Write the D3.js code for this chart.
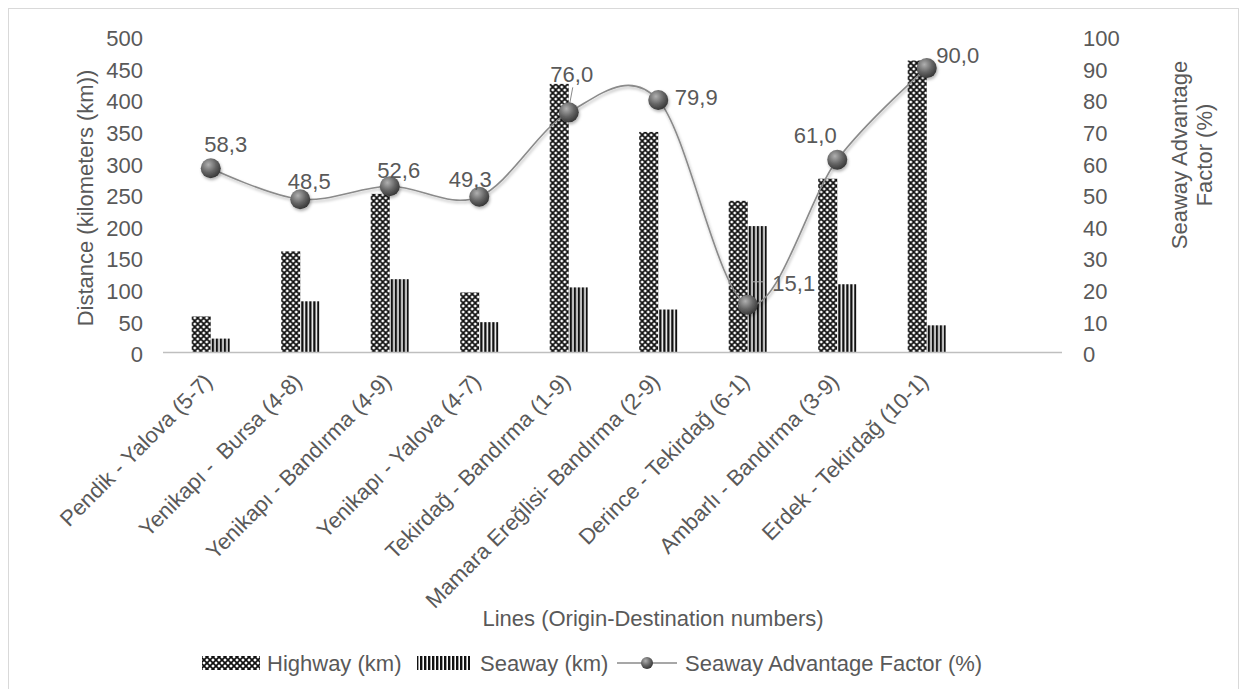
<!DOCTYPE html>
<html>
<head>
<meta charset="utf-8">
<script src="https://cdn.jsdelivr.net/npm/d3@7"></script>
<style>
  body { margin: 0; background: #fff; }
  text { font-family: "Liberation Sans", Arial, sans-serif; fill: #595959; }
</style>
</head>
<body>
<div id="chart"></div>
<script>
// data
const categories = ["Pendik - Yalova (5-7)", "Yenikapı -  Bursa (4-8)", "Yenikapı - Bandırma (4-9)",
                    "Yenikapı - Yalova (4-7)", "Tekirdağ - Bandırma (1-9)", "Mamara Ereğlisi- Bandırma (2-9)",
                    "Derince - Tekirdağ (6-1)", "Ambarlı - Bandırma (3-9)", "Erdek - Tekirdağ (10-1)"];
const highway = [57, 160, 251, 95, 425, 349, 240, 275, 462];
const seaway = [22, 81, 116, 48, 103, 68, 200, 108, 43];
const advantage = [58.3, 48.5, 52.6, 49.3, 76.0, 79.9, 15.1, 61.0, 90.0];
const leftTicks = [0, 50, 100, 150, 200, 250, 300, 350, 400, 450, 500];
const rightTicks = [0, 10, 20, 30, 40, 50, 60, 70, 80, 90, 100];

// hand placed data labels (offset of label centre from the point)
const labelNudge = [[15, -24], [9, -18], [9, -16], [-9, -18], [3, -38], [38, -3], [46, -22], [-22, -25], [31, -13]];

const width = 1241, height = 689;

const svg = d3.select("#chart").append("svg")
    .attr("width", width)
    .attr("height", height);

const defs = svg.append("defs");

// crosshatch for highway
const p1 = defs.append("pattern")
    .attr("id", "hatch")
    .attr("patternUnits", "userSpaceOnUse")
    .attr("width", 6).attr("height", 6);
p1.append("rect").attr("width", 6).attr("height", 6).attr("fill", "#fff");
p1.append("path")
    .attr("d", "M0,0 L6,6 M6,0 L0,6 M-1,5 L1,7 M5,-1 L7,1 M-1,1 L1,-1 M5,7 L7,5")
    .attr("stroke", "#111").attr("stroke-width", 1.7);

// vertical stripes for seaway
const p2 = defs.append("pattern")
    .attr("id", "stripes")
    .attr("patternUnits", "userSpaceOnUse")
    .attr("width", 4).attr("height", 4);
p2.append("rect").attr("width", 4).attr("height", 4).attr("fill", "#fff");
p2.append("rect").attr("width", 2.4).attr("height", 4).attr("fill", "#111");

const grad = defs.append("radialGradient")
    .attr("id", "ball")
    .attr("cx", "38%").attr("cy", "32%").attr("r", "70%");
grad.append("stop").attr("offset", "0%").attr("stop-color", "#b0b0b0");
grad.append("stop").attr("offset", "55%").attr("stop-color", "#666");
grad.append("stop").attr("offset", "100%").attr("stop-color", "#363636");

const shadow = defs.append("filter").attr("id", "shadow")
    .attr("x", "-50%").attr("y", "-50%").attr("width", "200%").attr("height", "200%");
shadow.append("feDropShadow")
    .attr("dx", 1).attr("dy", 2).attr("stdDeviation", 1.5)
    .attr("flood-color", "#000").attr("flood-opacity", 0.3);

// chart border
svg.append("rect")
    .attr("x", 8.5).attr("y", 8.5)
    .attr("width", 1230).attr("height", 700)
    .attr("fill", "none")
    .attr("stroke", "#d9d9d9");

// one empty slot at the end, like the original
const x = d3.scaleBand()
    .domain(d3.range(categories.length + 1))
    .range([166, 1061])
    .paddingInner(0.575)
    .paddingOuter(0.2875);

const xSub = d3.scaleBand()
    .domain(["highway", "seaway"])
    .range([0, x.bandwidth()]);

const y = d3.scaleLinear().domain([0, 500]).range([352.5, 36.5]);
const y2 = d3.scaleLinear().domain([0, 100]).range([352.5, 36.5]);

const cx = i => x(i) + x.bandwidth() / 2;

// left axis
const gl = svg.append("g")
    .attr("transform", "translate(151,0)")
    .call(d3.axisLeft(y).tickValues(leftTicks).tickSize(0).tickPadding(8));
gl.select(".domain").remove();
gl.selectAll("text").style("font-size", "22px").attr("fill", "#595959").attr("dy", "0.42em");

// right axis
const gr = svg.append("g")
    .attr("transform", "translate(1075,0)")
    .call(d3.axisRight(y2).tickValues(rightTicks).tickSize(0).tickPadding(8));
gr.select(".domain").remove();
gr.selectAll("text").style("font-size", "22px").attr("fill", "#595959").attr("dy", "0.42em");

// bars
const groups = svg.append("g")
    .selectAll("g")
    .data(categories)
    .enter()
    .append("g")
    .attr("transform", (d, i) => "translate(" + x(i) + ",0)");

groups.append("rect")
    .attr("x", xSub("highway"))
    .attr("width", xSub.bandwidth())
    .attr("y", (d, i) => y(highway[i]))
    .attr("height", (d, i) => y(0) - y(highway[i]))
    .attr("fill", "url(#hatch)");

groups.append("rect")
    .attr("x", xSub("seaway"))
    .attr("width", xSub.bandwidth())
    .attr("y", (d, i) => y(seaway[i]))
    .attr("height", (d, i) => y(0) - y(seaway[i]))
    .attr("fill", "url(#stripes)");

// baseline
svg.append("line")
    .attr("x1", 163).attr("x2", 1062)
    .attr("y1", y(0)).attr("y2", y(0))
    .attr("stroke", "#bfbfbf").attr("stroke-width", 1.5);

// category labels
svg.append("g")
    .selectAll("text")
    .data(categories)
    .enter()
    .append("text")
    .attr("transform", (d, i) => "translate(" + (cx(i) + 3) + ",383) rotate(-45)")
    .attr("text-anchor", "end")
    .style("font-size", "22px")
    .style("white-space", "pre")
    .text(d => d);

// advantage line
const line = d3.line()
    .x((d, i) => cx(i))
    .y(d => y2(d))
    .curve(d3.curveCardinal.tension(0));

svg.append("path")
    .datum(advantage)
    .attr("d", line)
    .attr("fill", "none")
    .attr("stroke", "#8a8a8a")
    .attr("stroke-width", 1.6)
    .attr("filter", "url(#shadow)");

// leader lines for two labels
svg.append("line")
    .attr("x1", cx(4) + 4).attr("y1", y2(advantage[4]) - 25)
    .attr("x2", cx(4) + 1).attr("y2", y2(advantage[4]) - 9)
    .attr("stroke", "#8a8a8a").attr("stroke-width", 1);
svg.append("line")
    .attr("x1", cx(6) + 4).attr("y1", y2(advantage[6]) - 23)
    .attr("x2", cx(6) + 17).attr("y2", y2(advantage[6]) - 23)
    .attr("stroke", "#b0b0b0").attr("stroke-width", 1);

svg.append("g")
    .selectAll("circle")
    .data(advantage)
    .enter()
    .append("circle")
    .attr("cx", (d, i) => cx(i))
    .attr("cy", d => y2(d))
    .attr("r", 10)
    .attr("fill", "url(#ball)")
    .attr("filter", "url(#shadow)");

svg.append("g")
    .selectAll("text")
    .data(advantage)
    .enter()
    .append("text")
    .attr("x", (d, i) => cx(i) + labelNudge[i][0])
    .attr("y", (d, i) => y2(d) + labelNudge[i][1])
    .attr("dy", "0.36em")
    .attr("text-anchor", "middle")
    .style("font-size", "22px")
    .text(d => d.toFixed(1).replace(".", ","));

// axis titles
svg.append("text")
    .attr("transform", "translate(93,198) rotate(-90)")
    .attr("text-anchor", "middle")
    .style("font-size", "22px")
    .text("Distance (kilometers (km))");

const rt = svg.append("text")
    .attr("transform", "translate(1187,155) rotate(-90)")
    .attr("text-anchor", "middle")
    .style("font-size", "22px");
rt.append("tspan").attr("x", 0).attr("y", 0).text("Seaway Advantage");
rt.append("tspan").attr("x", 0).attr("y", 25).text("Factor (%)");

svg.append("text")
    .attr("x", 653).attr("y", 618)
    .attr("dy", "0.36em")
    .attr("text-anchor", "middle")
    .style("font-size", "22px")
    .text("Lines (Origin-Destination numbers)");

// legend
const legendY = 663;
const legend = svg.append("g");

legend.append("rect")
    .attr("x", 202).attr("y", legendY - 7)
    .attr("width", 58).attr("height", 14)
    .attr("fill", "url(#hatch)");
legend.append("text")
    .attr("x", 267).attr("y", legendY).attr("dy", "0.36em")
    .style("font-size", "22px")
    .text("Highway (km)");

legend.append("rect")
    .attr("x", 417).attr("y", legendY - 7)
    .attr("width", 53).attr("height", 14)
    .attr("fill", "url(#stripes)");
legend.append("text")
    .attr("x", 480).attr("y", legendY).attr("dy", "0.36em")
    .style("font-size", "22px")
    .text("Seaway (km)");

legend.append("line")
    .attr("x1", 617).attr("x2", 677)
    .attr("y1", legendY).attr("y2", legendY)
    .attr("stroke", "#8a8a8a").attr("stroke-width", 1.6);
legend.append("circle")
    .attr("cx", 647).attr("cy", legendY)
    .attr("r", 6)
    .attr("fill", "url(#ball)");
legend.append("text")
    .attr("x", 685).attr("y", legendY).attr("dy", "0.36em")
    .style("font-size", "22px")
    .text("Seaway Advantage Factor (%)");
</script>
</body>
</html>
